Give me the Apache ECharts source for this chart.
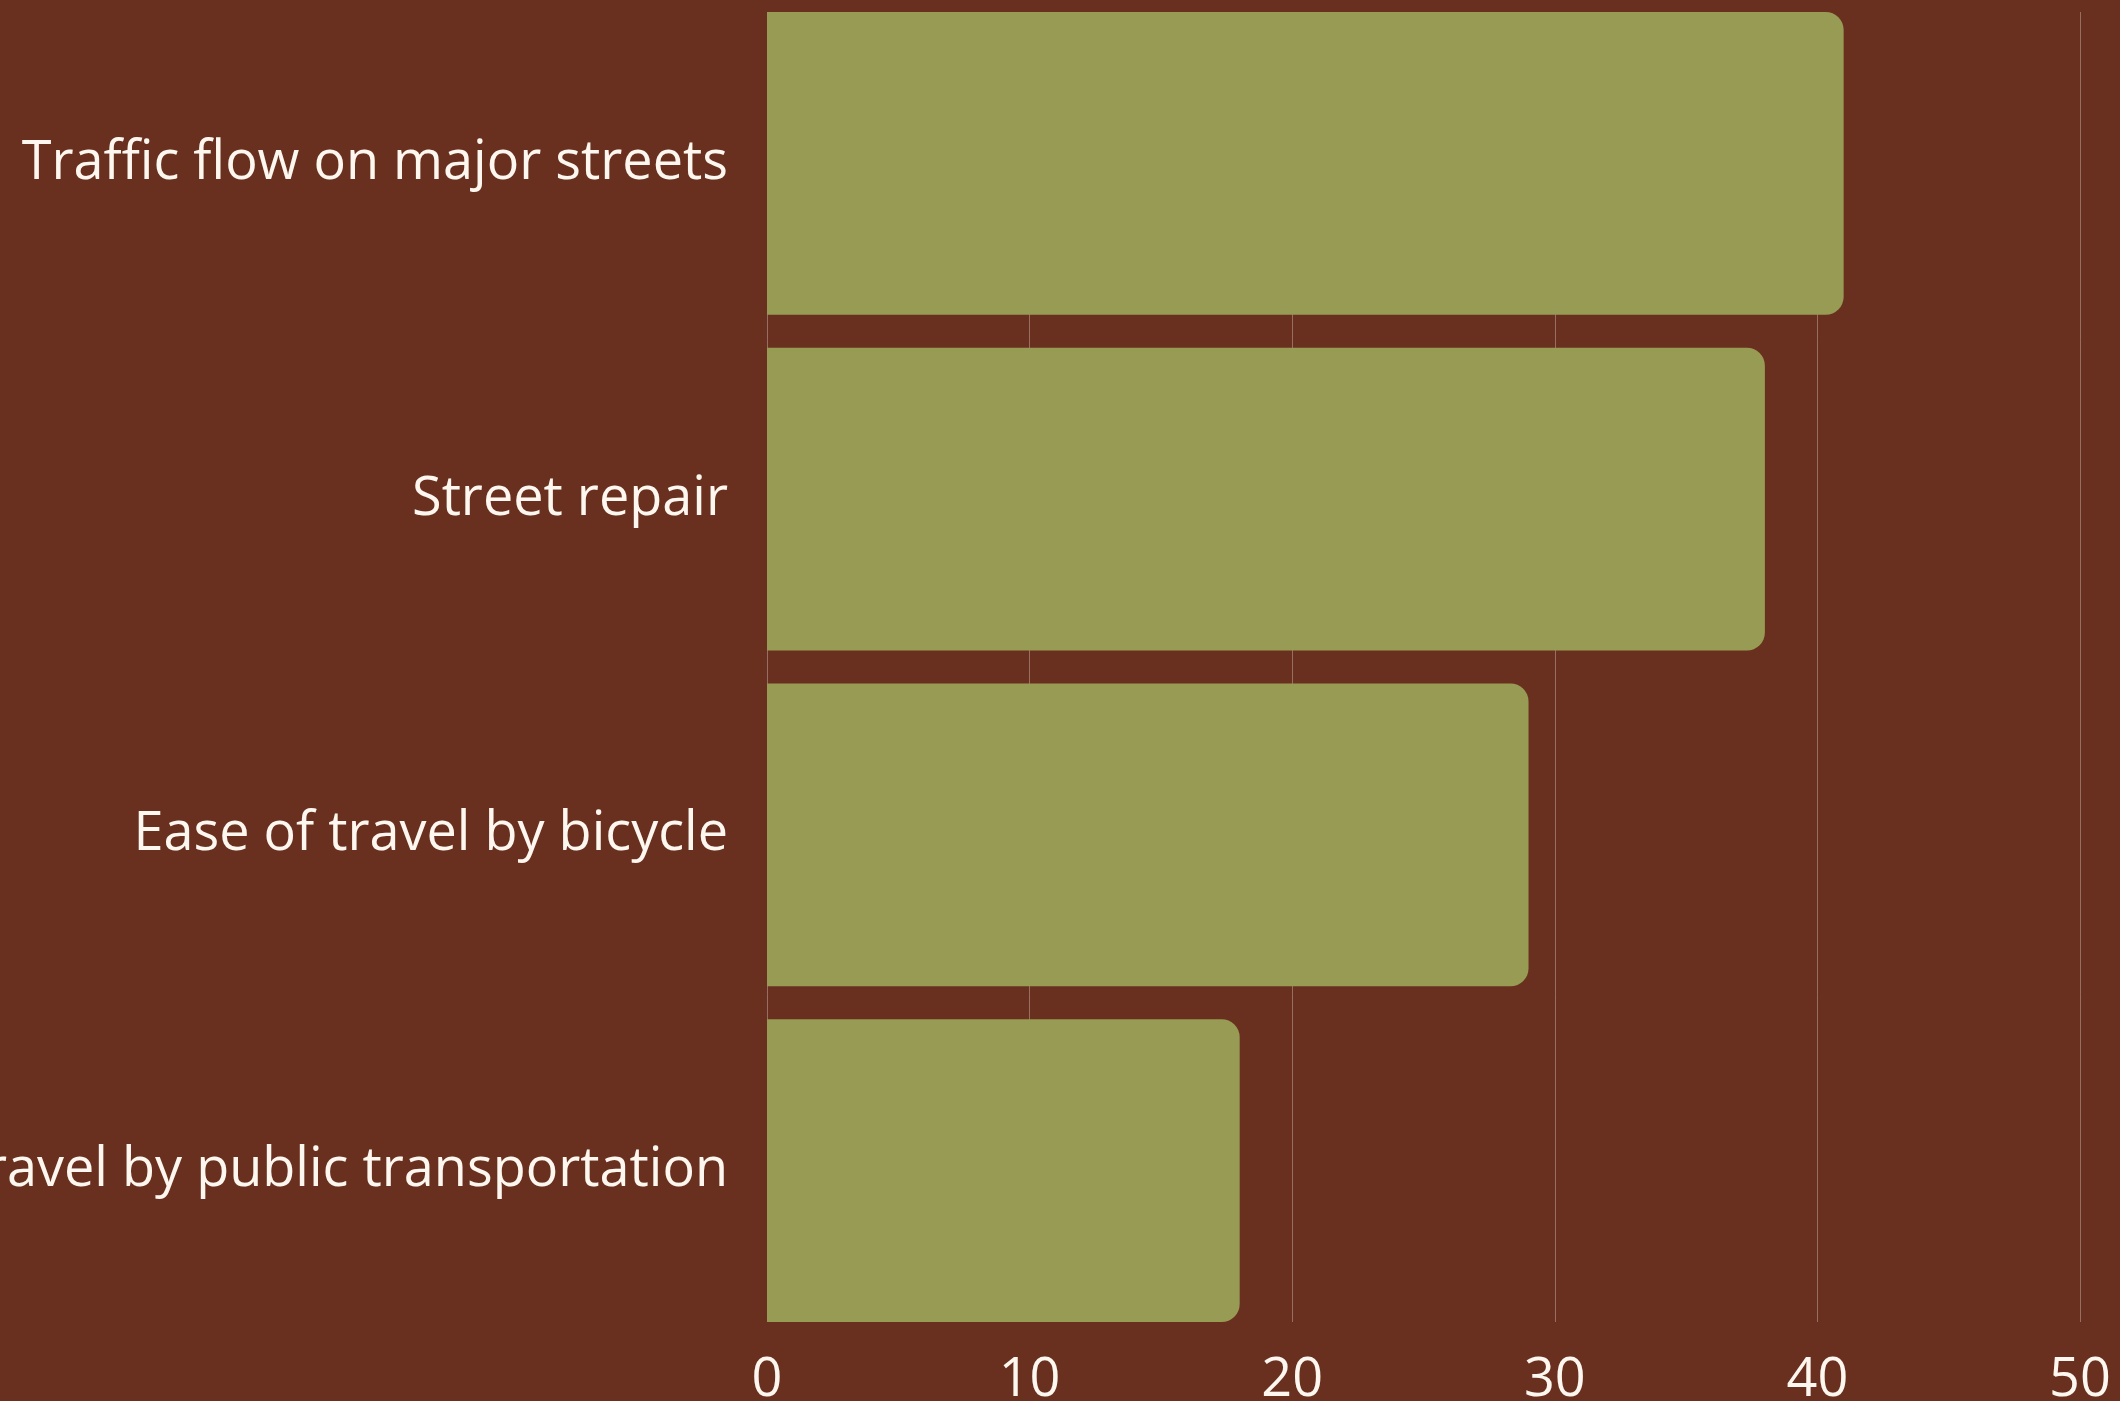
<!DOCTYPE html>
<html>
<head>
<meta charset="utf-8">
<script src="https://cdn.jsdelivr.net/npm/echarts@6/dist/echarts.min.js"></script>
<style>
  html, body { margin: 0; padding: 0; background: #69301f; }
  #chart { width: 2120px; height: 1401px; }
</style>
</head>
<body>
<div id="chart"></div>
<script>
const categories = [
  "Traffic flow on major streets",
  "Street repair",
  "Ease of travel by bicycle",
  "Ease of travel by public transportation"
];
const values = [41, 38, 29, 18];
const tickMin = 0;
const tickMax = 50;
const tickStep = 10;

const textColor = "#fdf7ef";
const fontFamily = "'Open Sans', 'Noto Sans', sans-serif";

const chart = echarts.init(document.getElementById("chart"));
chart.setOption({
  backgroundColor: "#69301f",
  animation: false,
  grid: [
    // bars
    { left: 767, width: 1313, top: -4.5, height: 1343, containLabel: false, outerBoundsMode: "none" },
    // split lines + tick labels
    { left: 767, width: 1313, top: 12, height: 1310, containLabel: false, outerBoundsMode: "none" }
  ],
  xAxis: [
    {
      gridIndex: 0,
      type: "value",
      min: tickMin,
      max: tickMax,
      interval: tickStep,
      axisLabel: { show: false },
      axisLine: { show: false },
      axisTick: { show: false },
      splitLine: { show: false }
    },
    {
      gridIndex: 1,
      type: "value",
      min: tickMin,
      max: tickMax,
      interval: tickStep,
      axisLine: { show: false },
      axisTick: { show: false },
      splitLine: { show: true, lineStyle: { color: "rgba(255,255,255,0.3)", width: 1 } },
      axisLabel: {
        color: textColor,
        fontSize: 54,
        fontFamily: fontFamily,
        margin: 32
      }
    }
  ],
  yAxis: [
    {
      gridIndex: 0,
      type: "category",
      inverse: true,
      data: categories,
      axisLine: { show: false },
      axisTick: { show: false },
      axisLabel: {
        color: textColor,
        fontSize: 54,
        fontFamily: fontFamily,
        margin: 39,
        padding: [6, 0, 0, 0]
      }
    },
    {
      gridIndex: 1,
      type: "value",
      show: false
    }
  ],
  series: [
    {
      type: "bar",
      xAxisIndex: 0,
      yAxisIndex: 0,
      data: values,
      barCategoryGap: "9.83%",
      itemStyle: { color: "#979b53", borderRadius: [0, 18, 18, 0] }
    }
  ]
});
</script>
</body>
</html>
